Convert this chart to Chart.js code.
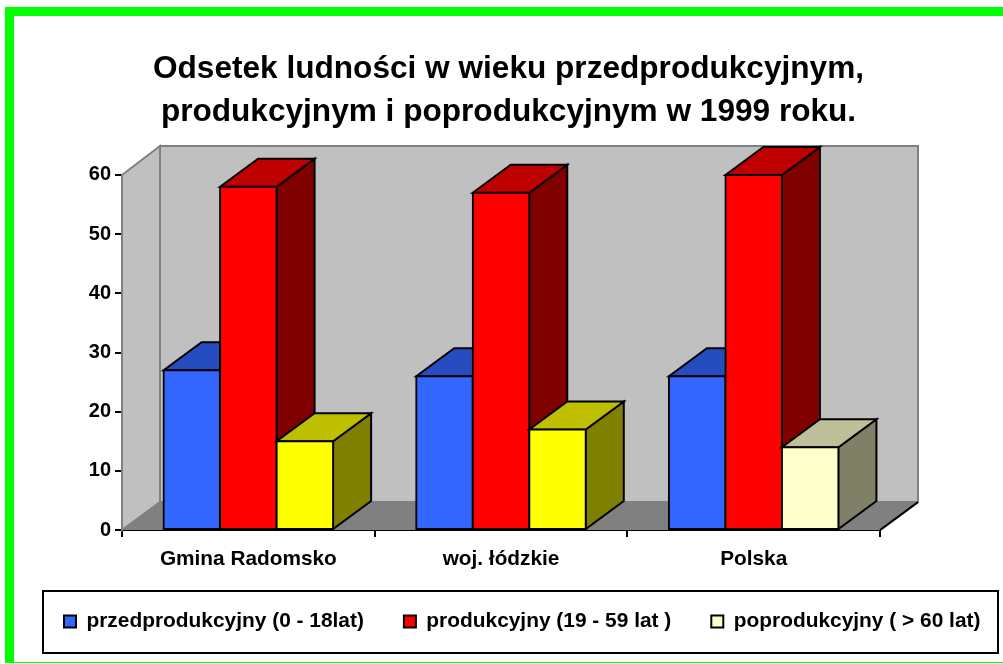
<!DOCTYPE html>
<html>
<head>
<meta charset="utf-8">
<style>
    html, body { margin: 0; padding: 0; background: #fff; overflow: hidden; }
    #frame { position: absolute; left: 5px; top: 7px; right: 0; bottom: 1px; box-sizing: border-box;
             border-left: 9px solid #00ff00; border-top: 9px solid #00ff00; border-bottom: 1px solid #00ff00; }
    #wrap { position: absolute; left: 0; top: 0; width: 1003px; height: 664px; }
</style>
</head>
<body>
<div id="frame"></div>
<div id="wrap"><canvas id="chart" width="1003" height="664"></canvas></div>
<script src="https://cdn.jsdelivr.net/npm/chart.js"></script>
<script>
const categories = ['Gmina Radomsko', 'woj. łódzkie', 'Polska'];
const przedprodukcyjny = [27, 26, 26];
const produkcyjny = [58, 57, 60];
const poprodukcyjny = [15, 17, 14];
const seriesNames = ['przedprodukcyjny (0 - 18lat)', 'produkcyjny (19 - 59 lat )', 'poprodukcyjny ( > 60 lat)'];
const titleLines = ['Odsetek ludności w wieku przedprodukcyjnym,', 'produkcyjnym i poprodukcyjnym w 1999 roku.'];

const BLUE = [51, 102, 255];
const RED = [255, 0, 0];
const YELLOW = [255, 255, 0];
const PALE = [255, 255, 204];

// how far the 3D box goes back, in pixels
const DEPTH_X = 38;
const DEPTH_Y = 28;

const FONT = '"Liberation Sans", Arial, sans-serif';

function rgb(c, f = 1) {
    return `rgb(${Math.round(c[0] * f)}, ${Math.round(c[1] * f)}, ${Math.round(c[2] * f)})`;
}

function poly(ctx, pts, fill, stroke, width = 2) {
    ctx.beginPath();
    pts.forEach((p, i) => i ? ctx.lineTo(p[0], p[1]) : ctx.moveTo(p[0], p[1]));
    ctx.closePath();
    if (fill) {
        ctx.fillStyle = fill;
        ctx.fill();
    }
    if (stroke) {
        ctx.lineWidth = width;
        ctx.strokeStyle = stroke;
        ctx.lineJoin = 'miter';
        ctx.stroke();
    }
}

// Walls and floor behind the bars
function drawBox(chart) {
    const { ctx, chartArea: a } = chart;
    const dx = DEPTH_X, dy = DEPTH_Y;
    poly(ctx, [[a.left, a.top], [a.left + dx, a.top - dy - 1], [a.left + dx, a.bottom - dy], [a.left, a.bottom]], '#c0c0c0', '#808080');
    poly(ctx, [[a.left + dx, a.top - dy - 1], [a.right + dx, a.top - dy - 1], [a.right + dx, a.bottom - dy], [a.left + dx, a.bottom - dy]], '#c0c0c0', '#808080');
    poly(ctx, [[a.left, a.bottom], [a.left + dx, a.bottom - dy], [a.right + dx, a.bottom - dy], [a.right, a.bottom]], '#808080');
    ctx.beginPath();
    ctx.moveTo(a.right, a.bottom);
    ctx.lineTo(a.right + dx, a.bottom - dy);
    ctx.lineWidth = 2;
    ctx.strokeStyle = '#000';
    ctx.stroke();
}

// Top and side faces, then the library's own bar as the front
function drawBars(chart) {
    const ctx = chart.ctx;
    const dx = DEPTH_X, dy = DEPTH_Y;
    chart.data.datasets.forEach((ds, d) => {
        chart.getDatasetMeta(d).data.forEach((bar, i) => {
            const { x, y, base, width } = bar.getProps(['x', 'y', 'base', 'width'], true);
            const l = x - width / 2, r = x + width / 2;
            const c = ds.faceColors[i];
            poly(ctx, [[r, y], [r + dx, y - dy], [r + dx, base - dy], [r, base]], rgb(c, 0.5), '#000');
            poly(ctx, [[l, y], [l + dx, y - dy], [r + dx, y - dy], [r, y]], rgb(c, 0.75), '#000');
            bar.draw(ctx);
        });
    });
}

const box3d = {
    id: 'box3d',
    // negative right padding keeps the legend on one row, so nudge it and the title back
    afterLayout(chart) {
        chart.legend.left += 24;
        chart.titleBlock.left -= 13;
        chart.titleBlock.right -= 13;
    },
    beforeDatasetsDraw(chart) {
        drawBox(chart);
        drawBars(chart);
    },
    // bars were already drawn in left to right order
    beforeDatasetDraw() {
        return false;
    },
    afterDraw(chart) {
        const ctx = chart.ctx;
        ctx.save();
        ctx.strokeStyle = '#000';
        ctx.lineWidth = 2;
        ctx.strokeRect(43, 591, 955, 62);
        ctx.restore();
    }
};

function makeSeries(label, values, colors) {
    return {
        label: label,
        data: values,
        faceColors: colors,
        backgroundColor: colors.map(c => rgb(c)),
        borderColor: '#000',
        borderWidth: 2,
        inflateAmount: 1, // centres the outline on the bar edge, so neighbours share one line
        borderSkipped: false,
        categoryPercentage: 0.671,
        barPercentage: 1
    };
}

new Chart(document.getElementById('chart'), {
    type: 'bar',
    data: {
        labels: categories,
        datasets: [
            makeSeries(seriesNames[0], przedprodukcyjny, [BLUE, BLUE, BLUE]),
            makeSeries(seriesNames[1], produkcyjny, [RED, RED, RED]),
            makeSeries(seriesNames[2], poprodukcyjny, [YELLOW, YELLOW, PALE])
        ]
    },
    plugins: [box3d],
    options: {
        responsive: false,
        animation: false,
        layout: { padding: { left: 0, right: -40, top: 0, bottom: 22 } },
        scales: {
            x: {
                offset: true,
                afterFit: s => { s.height = 41; },
                grid: { drawOnChartArea: false, offset: true, color: '#000', lineWidth: 2, tickLength: 7 },
                border: { color: '#000', width: 2 },
                ticks: { color: '#000', font: { family: FONT, size: 20.8, weight: 'bold' }, padding: 10, maxRotation: 0 }
            },
            y: {
                min: 0,
                max: 60,
                afterFit: s => { s.width = 122; },
                grid: { drawOnChartArea: false, color: '#000', lineWidth: 2, tickLength: 7 },
                border: { color: '#000', width: 2 },
                ticks: { stepSize: 10, color: '#000', font: { family: FONT, size: 20, weight: 'bold' }, padding: 4 }
            },
            // empty axis, only keeps the room to the right of the plot
            spacer: {
                position: 'right',
                afterFit: s => { s.width = 163; },
                grid: { display: false },
                border: { display: false },
                ticks: { display: false }
            }
        },
        plugins: {
            title: {
                display: true,
                text: titleLines,
                color: '#000',
                font: { family: FONT, size: 31.6, weight: 'bold', lineHeight: 1.36 },
                padding: { top: 48, bottom: 41 }
            },
            legend: {
                position: 'bottom',
                align: 'start',
                labels: {
                    color: '#000',
                    font: { family: FONT, size: 20.9, weight: 'bold' },
                    boxWidth: 12,
                    boxHeight: 12,
                    padding: 40,
                    generateLabels(chart) {
                        return Chart.defaults.plugins.legend.labels.generateLabels(chart).map((item, i) => {
                            const colors = chart.data.datasets[i].backgroundColor;
                            item.fillStyle = colors[colors.length - 1];
                            item.strokeStyle = '#000';
                            item.lineWidth = 2;
                            return item;
                        });
                    }
                }
            },
            tooltip: { enabled: false }
        }
    }
});
</script>
</body>
</html>
